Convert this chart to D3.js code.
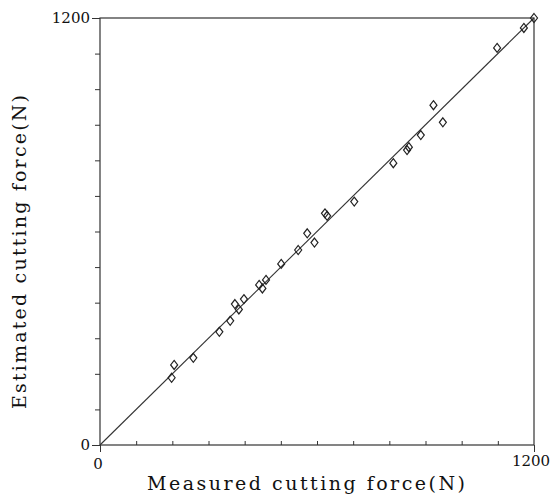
<!DOCTYPE html>
<html>
<head>
<meta charset="UTF-8">
<script src="https://d3js.org/d3.v7.min.js"></script>
<style>
  body { margin: 0; background: #fff; }
  text { font-family: "DejaVu Serif", "Liberation Serif", serif; fill: #111; }
</style>
</head>
<body>
<div id="chart"></div>
<script>
    // measured vs estimated cutting force (N)
    let measured = [198, 205, 258, 330, 360, 373, 384, 398, 440, 449, 459, 501, 548, 573, 593,
                    622, 628, 703, 811, 849, 854, 887, 922, 948, 1098, 1172, 1200];
    let estimated = [189, 225, 245, 318, 349, 396, 381, 410, 450, 440, 464, 509, 548, 595, 569,
                     651, 644, 684, 792, 829, 837, 871, 955, 907, 1116, 1172, 1200];
    let fitLine = [[0, 0], [1200, 1200]];
    let tickValues = d3.range(0, 1201, 100);
    let labelTicks = [0, 1200];

    let margin = { top: 18, right: 21, bottom: 52, left: 100 },
        width = 555 - margin.left - margin.right,
        height = 497 - margin.top - margin.bottom;

    let svg = d3.select("#chart").append("svg")
        .attr("width", 555)
        .attr("height", 497);

    let g = svg.append("g")
        .attr("transform", "translate(" + margin.left + "," + margin.top + ")");

    let x = d3.scaleLinear().domain([0, 1200]).range([0, width]);
    let y = d3.scaleLinear().domain([0, 1200]).range([height, 0]);

    let ink = "#333";

    // frame
    g.append("rect")
        .attr("x", 0).attr("y", 0)
        .attr("width", width).attr("height", height)
        .attr("fill", "none")
        .attr("stroke", ink)
        .attr("stroke-width", 1.2);

    // x axis: inward ticks, end ticks pointing down
    let xAxis = g.append("g")
        .attr("transform", "translate(0," + height + ")")
        .call(d3.axisBottom(x).tickValues(tickValues).tickSizeInner(-4).tickSizeOuter(0).tickFormat(""));
    xAxis.select(".domain").remove();
    xAxis.selectAll("line").attr("stroke", ink);
    xAxis.selectAll(".tick").filter(d => labelTicks.includes(d))
        .select("line").attr("y2", 7);

    // y axis: outward ticks
    let yAxis = g.append("g")
        .call(d3.axisLeft(y).tickValues(tickValues).tickSizeInner(5).tickSizeOuter(0).tickFormat(""));
    yAxis.select(".domain").remove();
    yAxis.selectAll("line").attr("stroke", ink);
    yAxis.selectAll(".tick").filter(d => labelTicks.includes(d))
        .select("line").attr("x2", -8);

    // tick labels
    g.selectAll(".xlab").data(labelTicks).enter().append("text")
        .attr("x", d => x(d) + (d === 0 ? -2 : -3))
        .attr("y", d => height + (d === 0 ? 24 : 21))
        .attr("text-anchor", "middle")
        .attr("font-size", 15)
        .text(d => d);

    g.selectAll(".ylab").data(labelTicks).enter().append("text")
        .attr("x", -10)
        .attr("y", d => y(d) + 5)
        .attr("text-anchor", "end")
        .attr("font-size", 15)
        .text(d => d);

    // y = x line
    g.append("path")
        .datum(fitLine)
        .attr("d", d3.line().x(d => x(d[0])).y(d => y(d[1])))
        .attr("fill", "none")
        .attr("stroke", ink)
        .attr("stroke-width", 1.1);

    // diamond markers
    let diamond = "M0,-4.5L3.5,0L0,4.5L-3.5,0Z";
    g.selectAll(".pt").data(measured).enter().append("path")
        .attr("d", diamond)
        .attr("transform", (d, i) => "translate(" + x(d) + "," + y(estimated[i]) + ")")
        .attr("fill", "none")
        .attr("stroke", "#222")
        .attr("stroke-width", 1.2);

    // axis titles
    svg.append("text")
        .attr("x", 306)
        .attr("y", 490)
        .attr("text-anchor", "middle")
        .attr("font-size", 19)
        .attr("textLength", 318)
        .attr("lengthAdjust", "spacing")
        .text("Measured  cutting  force(N)");

    svg.append("text")
        .attr("transform", "translate(26,252) rotate(-90)")
        .attr("text-anchor", "middle")
        .attr("font-size", 19)
        .attr("textLength", 314)
        .attr("lengthAdjust", "spacing")
        .text("Estimated  cutting  force(N)");
</script>
</body>
</html>
